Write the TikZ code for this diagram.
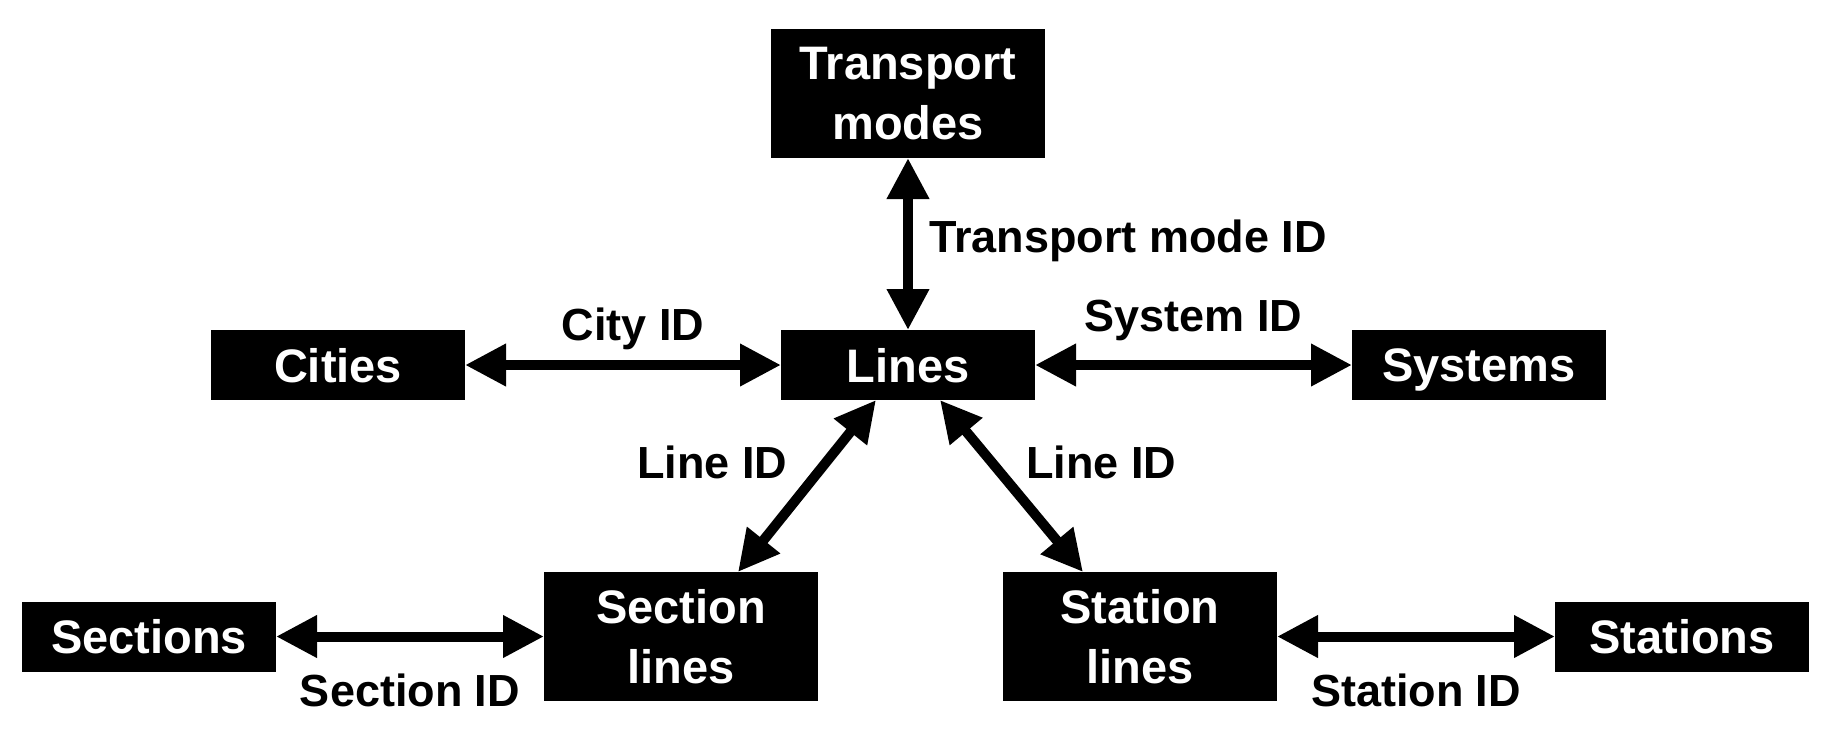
\documentclass[tikz,border=0pt]{standalone}
\usepackage{fontspec}
\setmainfont{Liberation Sans}
\usetikzlibrary{arrows.meta,positioning}
\tikzset{
  entity/.style={rectangle, fill=black, text=white, align=center, inner sep=2pt,
                 outer sep=0pt, minimum width=127pt, minimum height=35pt, text depth=0pt,
                 font=\fontsize{23.5}{30}\selectfont\bfseries},
  bigentity/.style={entity, minimum width=137pt, minimum height=64.5pt},
  link/.style={{Triangle[length=20.5pt,width=20pt]}-{Triangle[length=20.5pt,width=20pt]},
               line width=5pt},
  linklabel/.style={font=\fontsize{22.5}{27}\selectfont\bfseries, inner sep=0pt},
}
\begin{document}
\begin{tikzpicture}
  \useasboundingbox (0,0) rectangle (915.5pt,-372.5pt);
  \node[entity] (lines) at (454pt,-182.5pt) {Lines};
  \node[entity, left=158pt of lines] (cities) {Cities};
  \node[entity, right=158.5pt of lines] (systems) {Systems};
  \node[bigentity, above=86pt of lines] (modes) {Transport\\modes};
  \node[bigentity, below=86pt of lines, xshift=-113.5pt] (seclines) {Section\\lines};
  \node[bigentity, below=86pt of lines, xshift=116pt] (stalines) {Station\\lines};
  \node[entity, left=134pt of seclines] (sections) {Sections};
  \node[entity, right=139pt of stalines] (stations) {Stations};
  % links between tables
  \draw[link] (lines) -- node[linklabel, right=8pt, yshift=1.5pt] {Transport mode ID} (modes);
  \draw[link] (cities) -- node[linklabel, above=5pt, xshift=5pt] {City ID} (lines);
  \draw[link] (lines) -- node[linklabel, above=9.5pt] {System ID} (systems);
  \draw[link] ([xshift=-16pt]lines.south) -- node[linklabel, pos=0.36, left=17pt] {Line ID} ([xshift=28.5pt]seclines.north);
  \draw[link] ([xshift=16pt]lines.south) -- node[linklabel, pos=0.36, right=15pt] {Line ID} ([xshift=-28.5pt]stalines.north);
  \draw[link] (sections) -- node[linklabel, below=16pt] {Section ID} (seclines);
  \draw[link] (stalines) -- node[linklabel, below=16pt] {Station ID} (stations);
\end{tikzpicture}
\end{document}
